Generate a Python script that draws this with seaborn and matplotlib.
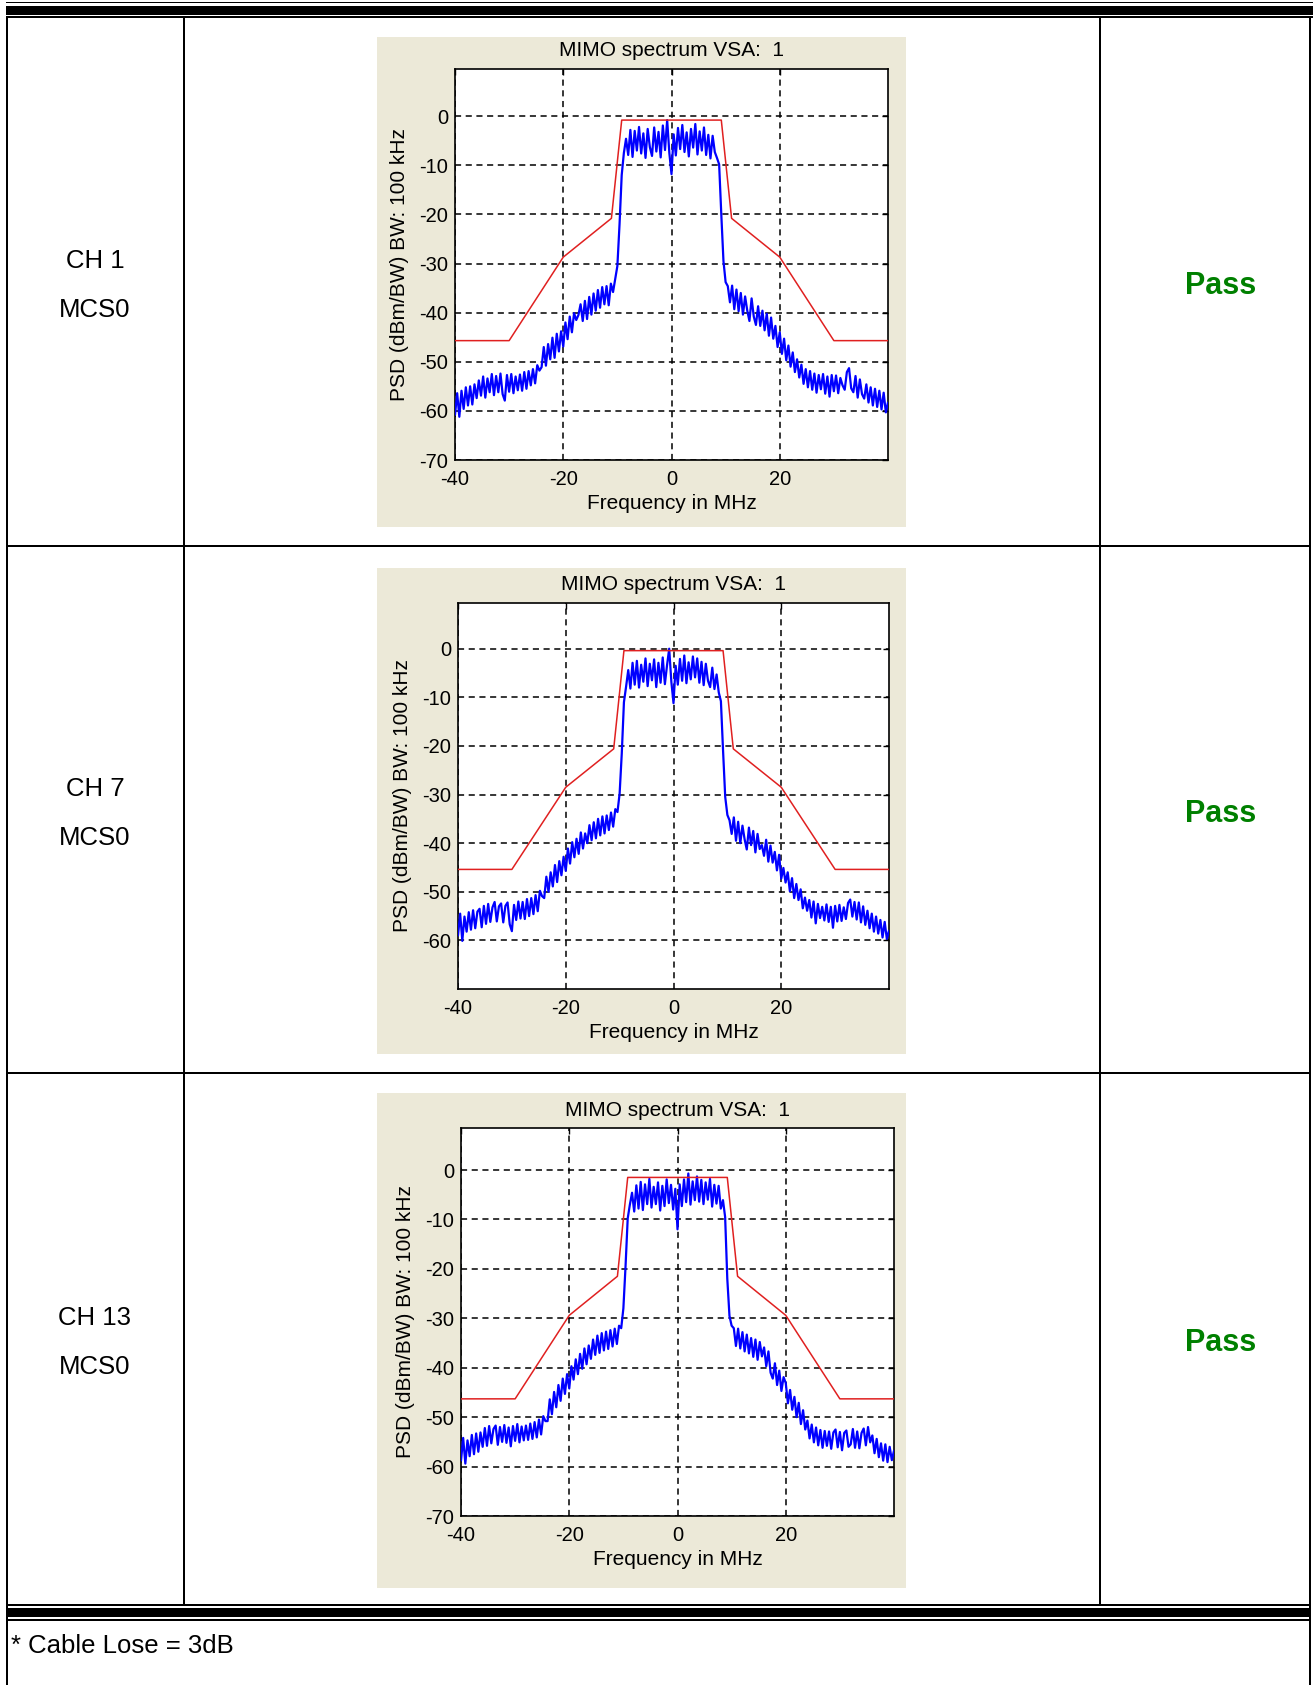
import numpy as np
import pandas as pd
import matplotlib
matplotlib.use("Agg")
import matplotlib.pyplot as plt
from matplotlib.patches import Rectangle
import seaborn as sns

# ---------------------------------------------------------------- text
CHANNELS = ["CH 1", "CH 7", "CH 13"]
RATE = "MCS0"
VERDICT = "Pass"
FOOTNOTE = "* Cable Lose = 3dB"
TITLE = "MIMO spectrum VSA:  1"
XLABEL = "Frequency in MHz"
YLABEL = "PSD (dBm/BW) BW: 100 kHz"

X_TICKS = [-40, -20, 0, 20]
Y_TICKS_CH1 = [-70, -60, -50, -40, -30, -20, -10, 0]
Y_TICKS_CH7 = [-60, -50, -40, -30, -20, -10, 0]
Y_TICKS_CH13 = [-70, -60, -50, -40, -30, -20, -10, 0]

# ---------------------------------------------------------------- data
# measured PSD, 0.4 MHz bins from -40 MHz to +40 MHz (201 bins)
FREQ = np.linspace(-40, 40, 201)

PSD_CH1 = [
    -60.8, -56.4, -61.2, -55.9, -59.6, -55.2, -58.9, -55.0, -58.7, -54.6,
    -57.4, -53.8, -56.9, -53.0, -57.3, -53.4, -56.2, -52.5, -56.8, -52.9,
    -56.2, -52.4, -56.6, -57.9, -52.7, -56.1, -52.5, -56.4, -53.0, -55.8,
    -52.6, -55.9, -52.1, -55.5, -51.9, -54.8, -51.5, -54.4, -50.7, -51.8,
    -51.1, -47.0, -50.8, -46.4, -49.5, -45.1, -49.2, -44.3, -47.9, -43.8,
    -46.9, -42.0, -45.4, -40.8, -44.0, -40.1, -41.5, -40.5, -38.3, -41.7,
    -37.6, -41.3, -36.8, -40.4, -36.1, -39.6, -35.4, -39.0, -34.8, -38.3,
    -34.6, -38.5, -34.1, -35.8, -33.2,
    -30.5, -22.0, -12.0, -7.5, -4.6,
    -7.9, -2.8, -8.3, -3.0, -7.0, -2.2, -7.6, -3.5, -8.5, -2.6,
    -6.3, -8.1, -2.3, -7.2, -3.2, -8.4, -1.9, -6.9, -0.8, -7.5,
    -11.8,
    -3.7, -8.0, -2.4, -6.7, -1.8, -7.3, -3.3, -8.2, -2.6,
    -6.4, -1.6, -7.8, -3.1, -7.0, -2.3, -7.9, -3.8, -8.6, -4.0,
    -7.3, -8.5, -9.8, -20.0, -29.5, -33.8, -34.6,
    -37.9, -34.5, -39.3,
    -35.3, -39.7, -36.0, -40.4, -36.7, -39.6, -41.7, -37.1, -40.8, -42.5,
    -38.7, -42.7, -39.6, -43.6, -40.2, -44.7, -41.0, -45.3, -42.7, -47.0,
    -44.0, -48.4, -45.3, -49.7, -46.7, -51.0, -48.1, -52.1, -49.5, -53.2,
    -50.6, -54.5, -51.5, -55.2, -51.9, -55.7, -52.4, -56.3, -52.7, -55.6,
    -52.5, -56.5, -53.0, -57.1, -52.7, -56.0, -52.8, -56.4, -53.3, -54.8,
    -55.7, -52.1, -51.3, -55.4, -56.2, -52.9, -57.3, -53.6, -56.6, -57.5,
    -54.6, -58.3, -55.2, -58.9, -55.5, -59.2, -55.9, -59.7, -56.3, -60.3, -58.3,
]

PSD_CH7 = [
    -59.0, -54.5, -60.1, -55.1, -58.2, -54.2, -57.8, -53.8, -57.5, -54.1,
    -53.5, -57.3, -52.9, -56.6, -52.5, -56.2, -53.2, -52.1, -56.1, -53.0,
    -52.4, -56.3, -52.9, -52.2, -56.7, -58.1, -52.7, -55.8, -52.0, -55.5,
    -52.1, -55.6, -51.5, -55.0, -51.3, -54.6, -50.7, -54.0, -49.8, -50.9,
    -51.3, -46.9, -50.0, -46.0, -48.9, -44.5, -48.0, -43.7, -46.6, -42.8,
    -45.7, -41.1, -44.2, -39.8, -42.9, -39.1, -42.2, -37.8, -41.1, -38.0,
    -40.0, -36.3, -39.4, -35.7, -39.0, -35.0, -38.4, -34.5, -38.0, -34.3,
    -37.3, -33.7, -36.6, -33.0, -33.6,
    -29.8, -21.5, -11.0, -7.8, -4.4,
    -8.2, -2.9, -7.4, -2.5, -8.0, -3.3, -6.8, -2.0, -7.7, -3.1,
    -6.5, -2.2, -7.9, -2.9, -7.0, -1.8, -7.3, -3.4, 0.0, -6.8,
    -11.2,
    -3.5, -7.4, -2.1, -6.6, -1.4, -7.1, -2.8, -6.3, -1.6,
    -5.9, -2.0, -7.0, -2.7, -7.5, -3.1, -6.6, -7.9, -3.9, -8.3,
    -5.3, -9.0, -10.8, -21.0, -30.5, -34.2, -35.3,
    -38.1, -34.7, -39.5,
    -35.6, -40.0, -36.4, -39.2, -41.3, -36.8, -40.4, -37.5, -41.9, -38.1,
    -41.2, -40.4, -42.6, -39.3, -43.8, -40.5, -44.0, -41.8, -45.6, -42.4,
    -47.3, -45.1, -48.1, -46.0, -49.9, -47.2, -51.3, -48.4, -51.7, -49.5,
    -53.4, -51.2, -53.9, -51.7, -55.3, -52.0, -56.5, -52.5, -55.4, -53.1,
    -55.9, -52.6, -56.2, -53.1, -57.4, -52.9, -56.1, -52.7, -56.0, -53.2,
    -55.6, -52.3, -51.6, -55.1, -52.1, -55.7, -52.2, -56.3, -53.0, -56.8,
    -53.9, -57.5, -54.5, -58.2, -55.1, -58.6, -55.8, -59.4, -56.2, -59.7, -58.0,
]

PSD_CH13 = [
    -58.8, -54.2, -59.4, -54.7, -57.9, -53.6, -57.5, -53.3, -57.0, -53.1,
    -56.0, -52.2, -55.8, -51.8, -55.3, -52.4, -51.7, -55.6, -52.0, -55.0,
    -51.6, -55.2, -52.1, -55.9, -51.8, -54.8, -51.4, -55.1, -51.9, -54.7,
    -51.7, -54.6, -51.3, -54.4, -51.0, -54.1, -50.5, -53.5, -49.8, -50.8,
    -50.8, -46.4, -49.4, -44.9, -48.0, -43.5, -46.7, -42.2, -45.3, -41.3,
    -44.2, -39.7, -42.4, -38.3, -41.3, -37.2, -40.2, -36.1, -39.3, -35.5,
    -38.2, -34.3, -37.4, -33.5, -37.0, -33.0, -36.5, -32.7, -36.2, -32.4,
    -35.7, -32.1, -35.2, -31.5, -32.0,
    -28.0, -19.5, -9.8, -7.0, -4.6,
    -8.4, -3.1, -7.8, -2.4, -8.1, -2.9, -6.9, -1.8, -7.6, -3.4,
    -6.9, -2.5, -8.2, -3.2, -7.3, -1.9, -6.7, -3.0, -8.0, -3.8,
    -12.0,
    -2.9, -7.3, -1.9, -6.5, -0.7, -7.0, -2.3, -6.1, -1.3,
    -6.4, -2.0, -6.9, -2.5, -6.0, -1.8, -7.4, -3.0, -6.8, -3.2,
    -7.8, -6.1, -9.5, -22.0, -29.5, -31.5, -32.0,
    -35.6, -32.1, -36.1,
    -32.8, -36.7, -33.3, -37.1, -34.0, -37.8, -34.3, -38.4, -34.8, -37.7,
    -35.9, -39.7, -36.7, -41.0, -42.2, -39.1, -43.5, -40.6, -44.7, -41.9,
    -43.1, -47.2, -44.5, -48.5, -45.9, -50.0, -47.1, -51.4, -48.6, -52.5,
    -50.7, -54.3, -51.5, -55.1, -52.1, -55.7, -52.6, -56.2, -52.8, -55.8,
    -52.9, -56.4, -53.1, -52.5, -56.1, -53.0, -56.7, -53.2, -52.7, -56.0,
    -55.5, -52.4, -56.2, -52.9, -56.3, -53.2, -52.3, -55.7, -52.0, -55.1,
    -53.7, -57.3, -54.4, -58.1, -55.3, -58.8, -55.5, -59.1, -56.0, -58.7, -56.8,
]

# spectral emission mask corner points
MASK_FREQ = [-40, -30, -20, -11.1, -9.2, 9.2, 11.1, 20, 30, 40]
MASK_CH1 = [-45.7, -45.7, -28.7, -20.8, -0.8, -0.8, -20.8, -28.7, -45.7, -45.7]
MASK_CH7 = [-45.4, -45.4, -28.5, -20.6, -0.4, -0.4, -20.6, -28.5, -45.4, -45.4]
MASK_CH13 = [-46.3, -46.3, -29.4, -21.5, -1.5, -1.5, -21.5, -29.4, -46.3, -46.3]

PSD = [PSD_CH1, PSD_CH7, PSD_CH13]
MASKS = [MASK_CH1, MASK_CH7, MASK_CH13]
Y_TICKS = [Y_TICKS_CH1, Y_TICKS_CH7, Y_TICKS_CH13]

# ---------------------------------------------------------------- layout (pixels)
FIG_W, FIG_H = 1313, 1685
ROW_EDGES = [17.7, 546.0, 1073.0, 1604.3]
COL_X = [7.0, 184.0, 1100.0, 1310.0]
PANELS = [(377, 37.5, 906, 527), (377, 568, 906, 1054), (377, 1093, 906, 1588)]
AXES_PX = [(455, 69, 888, 460), (458, 603, 889, 989), (461, 1128, 894, 1516)]
Y_TOP = [9.6, 9.4, 8.5]
PANEL_BG = "#ECE9D8"
PASS_GREEN = "#008000"

sns.set_style("white")
plt.rcParams["font.family"] = ["Liberation Sans", "DejaVu Sans"]
plt.rcParams["axes.unicode_minus"] = False
plt.rcParams["text.color"] = "black"
plt.rcParams["axes.labelcolor"] = "black"
plt.rcParams["xtick.color"] = "black"
plt.rcParams["ytick.color"] = "black"

fig = plt.figure(figsize=(FIG_W / 100, FIG_H / 100), dpi=100)
fig.patch.set_facecolor("white")

# full-figure canvas for the table rules, cell text and panel backgrounds
canvas = fig.add_axes([0, 0, 1, 1], zorder=0)
canvas.set_xlim(0, FIG_W)
canvas.set_ylim(FIG_H, 0)
canvas.axis("off")


def bar(x0, y0, x1, y1):
    canvas.add_patch(Rectangle((x0, y0), x1 - x0, y1 - y0, facecolor="black",
                               edgecolor="none"))


# header rules: thin / thick / thin
bar(6, 1.7, FIG_W, 3.4)
bar(6, 6.0, FIG_W, 14.7)
bar(6, 16.0, FIG_W, 17.7)
# footer rules: thin / thick / thin
bar(6, 1604.3, 1311, 1606.3)
bar(6, 1608.3, 1311, 1617.3)
bar(6, 1619.0, 1311, 1621.0)
# row separators
for y in ROW_EDGES[1:-1]:
    bar(6, y - 1, 1311, y + 1)
# outer borders (run to the bottom of the page)
bar(COL_X[0] - 1, 17.7, COL_X[0] + 1, FIG_H)
bar(COL_X[3] - 1, 17.7, COL_X[3] + 1, FIG_H)
# inner column dividers
for x in COL_X[1:3]:
    bar(x - 1, 17.7, x + 1, 1604.3)

for (x0, y0, x1, y1) in PANELS:
    canvas.add_patch(Rectangle((x0, y0), x1 - x0, y1 - y0, facecolor=PANEL_BG,
                               edgecolor="none"))

row1_mid = (ROW_EDGES[0] + ROW_EDGES[1]) / 2
for i, ch in enumerate(CHANNELS):
    mid = (ROW_EDGES[i] + ROW_EDGES[i + 1]) / 2
    shift = mid - row1_mid
    canvas.text(95, 268 + shift, ch, ha="center", va="baseline", fontsize=18.5)
    canvas.text(95, 317 + shift, RATE, ha="center", va="baseline", fontsize=18.5)
    canvas.text(1221, 294 + shift, VERDICT, ha="center", va="baseline",
                fontsize=22, fontweight="bold", color=PASS_GREEN)

canvas.text(11, 1653, FOOTNOTE, ha="left", va="baseline", fontsize=18.5)

# spectrum plots
for i in range(3):
    x0, y0, x1, y1 = AXES_PX[i]
    ax = fig.add_axes([x0 / FIG_W, 1 - y1 / FIG_H, (x1 - x0) / FIG_W,
                       (y1 - y0) / FIG_H], zorder=2)
    ax.set_facecolor("white")
    trace = pd.DataFrame({"freq": FREQ, "psd": PSD[i]})
    mask = pd.DataFrame({"freq": MASK_FREQ, "limit": MASKS[i]})
    sns.lineplot(data=trace, x="freq", y="psd", ax=ax, color="#0000FF",
                 linewidth=1.6, estimator=None, sort=False, zorder=3)
    sns.lineplot(data=mask, x="freq", y="limit", ax=ax, color="#E02020",
                 linewidth=1.1, estimator=None, sort=False, zorder=4)
    ax.set_xlim(-40, 40)
    ax.set_ylim(-70, Y_TOP[i])
    ax.set_xticks(X_TICKS)
    ax.set_yticks(Y_TICKS[i])
    ax.grid(True, color="black", linestyle=(0, (4, 3)), linewidth=1.1)
    for s in ax.spines.values():
        s.set_color("black")
        s.set_linewidth(1.2)
    ax.tick_params(direction="in", length=4, width=1, colors="black",
                   labelsize=14.5, top=True, right=True)
    ax.tick_params(axis="x", pad=7)
    ax.tick_params(axis="y", pad=5)
    ax.set_title(TITLE, fontsize=15, pad=9, color="black")
    ax.set_xlabel(XLABEL, fontsize=15, labelpad=4)
    ax.set_ylabel(YLABEL, fontsize=15, labelpad=7)

fig.savefig("out.png", dpi=100, facecolor="white")
